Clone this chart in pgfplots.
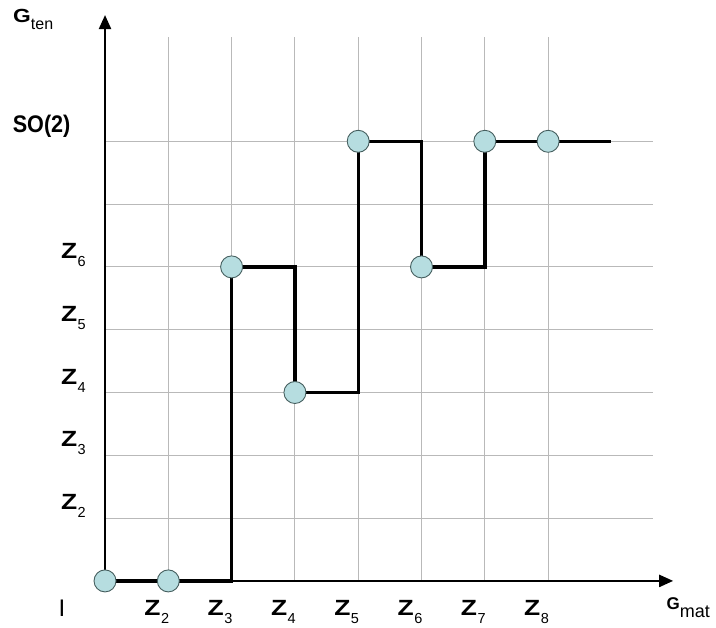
\documentclass[border=0pt]{standalone}
\usepackage{fontspec}
\setmainfont{Liberation Sans}
\usepackage{graphicx}
\usepackage{pgfplots}
\pgfplotsset{compat=1.18}
\usetikzlibrary{arrows.meta}

\definecolor{dotfill}{RGB}{182,221,224}
\definecolor{dotedge}{RGB}{70,95,95}
\definecolor{gridc}{RGB}{185,185,185}

% wide Z with a low subscript, as in the original figure
\newcommand{\zl}[1]{\scalebox{1.2}[1]{\bfseries Z}\kern0.5pt\raisebox{-8pt}{\fontsize{14.5}{15}\selectfont #1}}

\begin{document}
\begin{tikzpicture}
\begin{axis}[
  x=63.3pt, y=62.8pt,
  xmin=0, xmax=8.66, ymin=0, ymax=8.66,
  axis lines=left,
  axis line style={line width=2.2pt, black, -{Triangle[length=14pt,width=12pt]}},
  x axis line style={shorten >=-20pt},
  y axis line style={shorten >=-22pt},
  xtick={1,...,7}, ytick={1,...,7},
  xticklabels={\zl{2},\zl{3},\zl{4},\zl{5},\zl{6},\zl{7},\zl{8}},
  yticklabels={\zl{2},\zl{3},\zl{4},\zl{5},\zl{6},{},
    {\makebox[73pt][l]{\raisebox{8pt}[0pt][0pt]{\fontsize{24}{26}\selectfont\bfseries\scalebox{0.9}[1]{SO(2)}}}}},
  major tick length=0pt,
  tick label style={font=\fontsize{22}{26}\selectfont, inner sep=0pt},
  xticklabel style={anchor=north east, xshift=1pt, yshift=-19pt},
  yticklabel style={anchor=south east, xshift=-19pt},
  grid=major,
  major grid style={gridc, line width=0.9pt},
  clip=false,
]
\addplot[black, line width=3.4pt, mark=none] coordinates {
  (0,0) (2,0) (2,5) (3,5) (3,3) (4,3) (4,7) (5,7) (5,5) (6,5) (6,7) (8,7)};
\addplot[only marks, mark=*, mark size=11pt,
  mark options={fill=dotfill, draw=dotedge, line width=0.9pt}] coordinates {
  (0,0) (1,0) (2,5) (3,3) (4,7) (5,5) (6,7) (7,7)};
\node[anchor=north west, inner sep=0pt, font=\fontsize{19}{22}\selectfont]
  at (axis cs:-1.453,9.1) {\scalebox{1.2}[1]{\bfseries G}\raisebox{-7pt}{\fontsize{16}{16}\selectfont ten}};
\node[anchor=north west, inner sep=0pt, font=\fontsize{17}{20}\selectfont]
  at (axis cs:8.87,-0.27) {{\bfseries G}\raisebox{-8pt}{\fontsize{18}{18}\selectfont mat}};
\node[inner sep=0pt, font=\fontsize{24}{28}\selectfont] at (axis cs:-0.68,-0.44) {I};
\path (axis cs:-1.659,-0.748) rectangle (axis cs:9.652,9.25);
\end{axis}
\end{tikzpicture}
\end{document}
